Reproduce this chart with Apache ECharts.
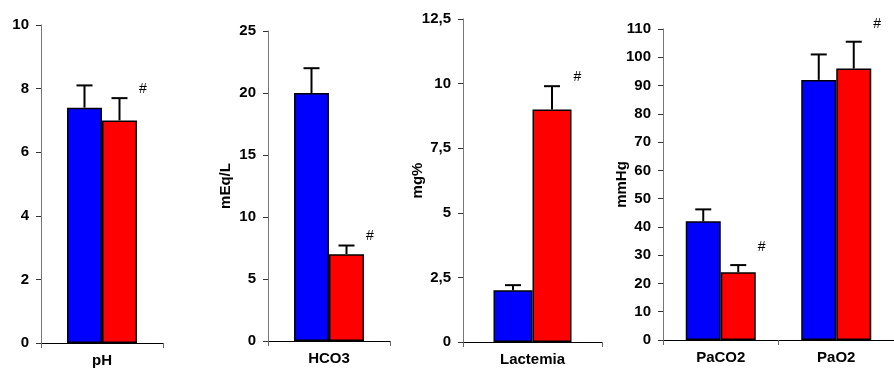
<!DOCTYPE html>
<html>
<head>
<meta charset="utf-8">
<script src="https://cdn.jsdelivr.net/npm/echarts@6/dist/echarts.min.js"></script>
<style>
html,body{margin:0;padding:0;background:#fff;}
#c{width:894px;height:375px;}
</style>
</head>
<body>
<div id="c"></div>
<script>
// Panel 1: pH
const categories1 = ['pH'];
const blue1 = [7.4];
const blueErr1 = [8.1];
const red1 = [7.0];
const redErr1 = [7.7];
const ticks1 = [0, 2, 4, 6, 8, 10];

// Panel 2: HCO3
const categories2 = ['HCO3'];
const blue2 = [20];
const blueErr2 = [22];
const red2 = [7];
const redErr2 = [7.7];
const ticks2 = [0, 5, 10, 15, 20, 25];

// Panel 3: Lactemia
const categories3 = ['Lactemia'];
const blue3 = [2];
const blueErr3 = [2.2];
const red3 = [9];
const redErr3 = [9.9];
const ticks3 = ['0', '2,5', '5', '7,5', '10', '12,5'];

// Panel 4: PaCO2 / PaO2
const categories4 = ['PaCO2', 'PaO2'];
const blue4 = [42, 92];
const blueErr4 = [46.2, 101];
const red4 = [24, 96];
const redErr4 = [26.5, 105.5];
const ticks4 = [0, 10, 20, 30, 40, 50, 60, 70, 80, 90, 100, 110];

const yNames = ['', 'mEq/L', 'mg%', 'mmHg'];

const panels = [
  {cats: categories1, b: blue1, be: blueErr1, r: red1, re: redErr1, max: 10, interval: 2, fmt: v => String(v),
   grid: {left: 41, top: 25, width: 122, height: 318}, bw: 35, nameGap: 0, hashOff: 9},
  {cats: categories2, b: blue2, be: blueErr2, r: red2, re: redErr2, max: 25, interval: 5, fmt: v => String(v),
   grid: {left: 268, top: 31, width: 122, height: 310}, bw: 35, nameGap: 35, hashOff: 9},
  {cats: categories3, b: blue3, be: blueErr3, r: red3, re: redErr3, max: 12.5, interval: 2.5,
   fmt: v => ticks3[Math.round(v / 2.5)] || String(v).replace('.', ','),
   grid: {left: 463, top: 19, width: 139, height: 323}, bw: 39, nameGap: 38, hashOff: 9},
  {cats: categories4, b: blue4, be: blueErr4, r: red4, re: redErr4, max: 110, interval: 10, fmt: v => String(v),
   grid: {left: 663, top: 29, width: 242, height: 311}, bw: 35, nameGap: 34, hashOff: 18}
];

const FONT = 'Liberation Sans, Arial, sans-serif';
const FS = 15;
const option = {
  animation: false,
  backgroundColor: '#fff',
  grid: [], xAxis: [], yAxis: [], series: []
};

panels.forEach((p, i) => {
  option.grid.push(Object.assign({containLabel: false}, p.grid));
  option.xAxis.push({
    type: 'category', gridIndex: i, data: p.cats,
    axisLine: {lineStyle: {color: '#000', width: 1}},
    axisTick: {show: true, length: 5, lineStyle: {color: '#666'}},
    axisLabel: {color: '#000', fontFamily: FONT, fontWeight: 'bold', fontSize: FS, margin: 10}
  });
  option.yAxis.push({
    type: 'value', gridIndex: i, min: 0, max: p.max, interval: p.interval,
    name: yNames[i], nameLocation: 'middle', nameGap: p.nameGap, nameRotate: 90,
    nameMoveOverlap: false,
    nameTextStyle: {color: '#000', fontFamily: FONT, fontWeight: 'bold', fontSize: FS},
    axisLine: {show: true, lineStyle: {color: '#777', width: 1}},
    axisTick: {show: true, length: 5, lineStyle: {color: '#333'}},
    splitLine: {show: false},
    axisLabel: {color: '#000', fontFamily: FONT, fontWeight: 'bold', fontSize: FS, margin: 12, formatter: p.fmt}
  });
  const common = {type: 'bar', xAxisIndex: i, yAxisIndex: i, barWidth: p.bw, barGap: '0%'};
  option.series.push(Object.assign({}, common, {
    data: p.b, itemStyle: {color: '#0000FF', borderColor: '#000', borderWidth: 1.5}
  }));
  option.series.push(Object.assign({}, common, {
    data: p.r, itemStyle: {color: '#FF0000', borderColor: '#000', borderWidth: 1.5}
  }));
  [[p.b, p.be, -1], [p.r, p.re, 1]].forEach(([vals, errs, side]) => {
    option.series.push({
      type: 'custom', xAxisIndex: i, yAxisIndex: i, z: 5,
      data: vals.map((v, k) => [k, v, errs[k]]),
      encode: {x: 0, y: 1},
      renderItem: (params, api) => {
        const base = api.coord([api.value(0), api.value(1)]);
        const top = api.coord([api.value(0), api.value(2)]);
        const x = base[0] + side * p.bw / 2;
        const cap = 8;
        const children = [
          {type: 'line', shape: {x1: x, y1: base[1], x2: x, y2: top[1]}, style: {stroke: '#000', lineWidth: 2}},
          {type: 'line', shape: {x1: x - cap, y1: top[1], x2: x + cap, y2: top[1]}, style: {stroke: '#000', lineWidth: 2}}
        ];
        if (side === 1) {
          children.push({type: 'text', style: {text: '#', x: base[0] + p.bw + 2, y: top[1] - p.hashOff,
            align: 'left', verticalAlign: 'middle', fill: '#000', fontFamily: FONT, fontSize: 14}});
        }
        return {type: 'group', children};
      }
    });
  });
});

const chart = echarts.init(document.getElementById('c'));
chart.setOption(option);
</script>
</body>
</html>
